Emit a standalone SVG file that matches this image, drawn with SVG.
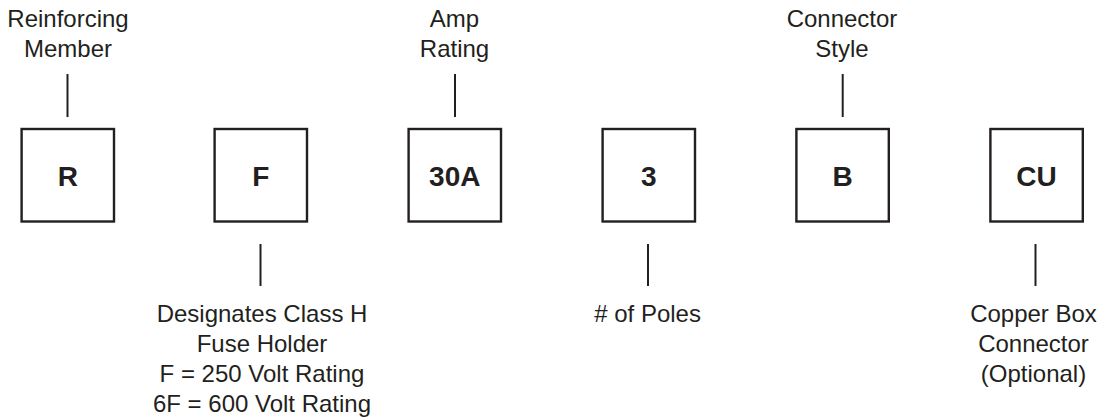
<svg xmlns="http://www.w3.org/2000/svg" width="1103" height="417" viewBox="0 0 1103 417">
<style>
.box{fill:#fff;stroke:#231f20;stroke-width:2.4}
.code{font-family:"Liberation Sans",Arial,sans-serif;font-weight:bold;font-size:28px;fill:#231f20;text-anchor:middle}
.lbl{font-family:"Liberation Sans",Arial,sans-serif;font-size:24px;fill:#231f20;text-anchor:middle}
.ln{stroke:#231f20;stroke-width:2;fill:none}
</style>
<rect width="1103" height="417" fill="#fff"/>
<g id="connectors">
<line class="ln" x1="67.5" y1="74" x2="67.5" y2="117"/>
<line class="ln" x1="455" y1="74" x2="455" y2="117"/>
<line class="ln" x1="842.7" y1="74" x2="842.7" y2="117"/>
<line class="ln" x1="260.5" y1="244" x2="260.5" y2="286"/>
<line class="ln" x1="648" y1="244" x2="648" y2="286"/>
<line class="ln" x1="1035.5" y1="244" x2="1035.5" y2="286"/>
</g>
<g id="node-R">
<rect class="box" x="21.6" y="129" width="92.4" height="92.5"/>
<text class="code" x="67.8" y="186">R</text>
</g>
<g id="node-F">
<rect class="box" x="214.6" y="129" width="92.4" height="92.5"/>
<text class="code" x="260.8" y="186">F</text>
</g>
<g id="node-30A">
<rect class="box" x="408.6" y="129" width="92.4" height="92.5"/>
<text class="code" x="454.8" y="186">30A</text>
</g>
<g id="node-3">
<rect class="box" x="602.6" y="129" width="92.4" height="92.5"/>
<text class="code" x="648.8" y="186">3</text>
</g>
<g id="node-B">
<rect class="box" x="796.4" y="129" width="92.4" height="92.5"/>
<text class="code" x="842.6" y="186">B</text>
</g>
<g id="node-CU">
<rect class="box" x="990.4" y="129" width="92.4" height="92.5"/>
<text class="code" x="1036.6" y="186">CU</text>
</g>
<g id="label-reinforcing">
<text class="lbl" x="68" y="27">Reinforcing</text>
<text class="lbl" x="68" y="57">Member</text>
</g>
<g id="label-amp">
<text class="lbl" x="454.5" y="27">Amp</text>
<text class="lbl" x="454.5" y="57">Rating</text>
</g>
<g id="label-connector">
<text class="lbl" x="842" y="27">Connector</text>
<text class="lbl" x="842" y="57">Style</text>
</g>
<g id="label-fuse">
<text class="lbl" x="262" y="322">Designates Class H</text>
<text class="lbl" x="262" y="352">Fuse Holder</text>
<text class="lbl" x="262" y="382">F = 250 Volt Rating</text>
<text class="lbl" x="262" y="412">6F = 600 Volt Rating</text>
</g>
<g id="label-poles">
<text class="lbl" x="647.6" y="322">#  of Poles</text>
</g>
<g id="label-copper">
<text class="lbl" x="1033.5" y="322">Copper Box</text>
<text class="lbl" x="1033.5" y="352">Connector</text>
<text class="lbl" x="1033.5" y="382">(Optional)</text>
</g>
</svg>
